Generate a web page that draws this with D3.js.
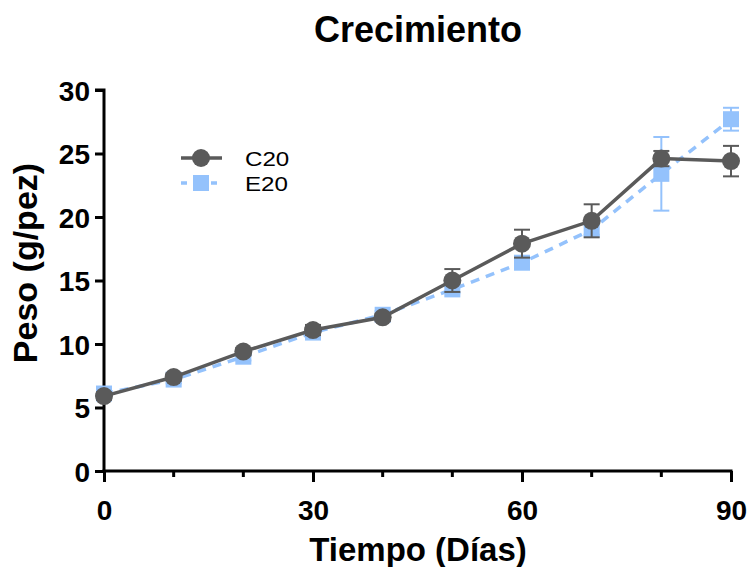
<!DOCTYPE html>
<html>
<head>
<meta charset="utf-8">
<script src="https://cdn.jsdelivr.net/npm/d3@7"></script>
<style>
  body { margin: 0; background: white; }
  text { font-family: "Liberation Sans", Arial, sans-serif; font-weight: bold; }
</style>
</head>
<body>
<script>
var days = [0, 10, 20, 30, 40, 50, 60, 70, 80, 90];
var c20 = [5.9, 7.4, 9.4, 11.1, 12.1, 15.0, 17.9, 19.7, 24.6, 24.4];
var c20Err = [0.3, 0.3, 0.3, 0.4, 0.3, 0.9, 1.1, 1.3, 0.6, 1.2];
var e20 = [6.1, 7.2, 9.0, 10.9, 12.3, 14.3, 16.4, 19.0, 23.4, 27.7];
var e20Err = [0.3, 0.3, 0.3, 0.3, 0.3, 0.3, 0.3, 0.4, 2.9, 0.9];
var xTicks = [0, 30, 60, 90];
var xMinor = [10, 20, 40, 50, 70, 80];
var yTicks = [0, 5, 10, 15, 20, 25, 30];

var width = 749, height = 567;
var svg = d3.select('body').append('svg')
  .attr('width', width)
  .attr('height', height);

var x = d3.scaleLinear().domain([0, 90]).range([104, 731]);
var y = d3.scaleLinear().domain([0, 30]).range([471, 90]);

var dark = '#5a5a5a';
var blue = '#94c2fc';

// title
svg.append('text')
  .attr('x', 418).attr('y', 42)
  .attr('text-anchor', 'middle')
  .style('font-size', '36px')
  .text('Crecimiento');

// axes
var yAxis = d3.axisLeft(y).tickValues(yTicks).tickSize(9).tickPadding(5);
var gy = svg.append('g').attr('transform', 'translate(' + x(0) + ',0)').call(yAxis);
gy.select('.domain').attr('stroke-width', 3).attr('d', 'M-9,' + y(30) + 'H0V' + (y(0) + 1.5));
gy.selectAll('.tick line').attr('stroke-width', 3);
gy.selectAll('.tick text').style('font-size', '28px').attr('dy', '0.36em');

var xAxis = d3.axisBottom(x).tickValues(xTicks).tickSize(11).tickPadding(18);
var gx = svg.append('g').attr('transform', 'translate(0,' + y(0) + ')').call(xAxis);
gx.select('.domain').attr('stroke-width', 3).attr('d', 'M' + (x(0) - 1.5) + ',0H' + (x(90) + 1.5));
gx.selectAll('.tick line').attr('stroke-width', 3);
gx.selectAll('.tick text').style('font-size', '28px');

gx.selectAll('.minor')
  .data(xMinor)
  .enter()
  .append('line')
  .attr('x1', function(d) { return x(d); })
  .attr('x2', function(d) { return x(d); })
  .attr('y1', 0).attr('y2', 6)
  .attr('stroke', 'black')
  .attr('stroke-width', 3);

// axis titles
svg.append('text')
  .attr('x', 418).attr('y', 561)
  .attr('text-anchor', 'middle')
  .style('font-size', '33px')
  .text('Tiempo (Días)');

svg.append('text')
  .attr('transform', 'translate(37,263) rotate(-90)')
  .attr('text-anchor', 'middle')
  .style('font-size', '34px')
  .text('Peso (g/pez)');

function drawSeries(vals, errs, color, dashed, shape) {
  var g = svg.append('g');
  var pts = days.map(function(d, i) { return { x: d, y: vals[i], e: errs[i] }; });

  // error bars
  var eb = g.selectAll('.err').data(pts).enter().append('g');
  eb.append('line')
    .attr('x1', function(d) { return x(d.x); })
    .attr('x2', function(d) { return x(d.x); })
    .attr('y1', function(d) { return y(d.y + d.e); })
    .attr('y2', function(d) { return y(d.y - d.e); })
    .attr('stroke', color).attr('stroke-width', 2);
  [1, -1].forEach(function(s) {
    eb.append('line')
      .attr('x1', function(d) { return x(d.x) - 8; })
      .attr('x2', function(d) { return x(d.x) + 8; })
      .attr('y1', function(d) { return y(d.y + s * d.e); })
      .attr('y2', function(d) { return y(d.y + s * d.e); })
      .attr('stroke', color).attr('stroke-width', 2);
  });

  var line = d3.line().x(function(d) { return x(d.x); }).y(function(d) { return y(d.y); });
  g.append('path')
    .datum(pts)
    .attr('d', line)
    .attr('fill', 'none')
    .attr('stroke', color)
    .attr('stroke-width', 3.5)
    .attr('stroke-dasharray', dashed ? '9,7' : null);

  if (shape === 'circle') {
    g.selectAll('.pt').data(pts).enter().append('circle')
      .attr('cx', function(d) { return x(d.x); })
      .attr('cy', function(d) { return y(d.y); })
      .attr('r', 9)
      .attr('fill', color);
  } else {
    g.selectAll('.pt').data(pts).enter().append('rect')
      .attr('x', function(d) { return x(d.x) - 8; })
      .attr('y', function(d) { return y(d.y) - 8; })
      .attr('width', 16).attr('height', 16)
      .attr('fill', color);
  }
}

drawSeries(e20, e20Err, blue, true, 'square');
drawSeries(c20, c20Err, dark, false, 'circle');

// legend
var leg = svg.append('g');
leg.append('line').attr('x1', 181).attr('x2', 222).attr('y1', 158).attr('y2', 158)
  .attr('stroke', dark).attr('stroke-width', 3.5);
leg.append('circle').attr('cx', 201).attr('cy', 158).attr('r', 9).attr('fill', dark);
leg.append('line').attr('x1', 181).attr('x2', 222).attr('y1', 183).attr('y2', 183)
  .attr('stroke', blue).attr('stroke-width', 3.5).attr('stroke-dasharray', '6,9');
leg.append('rect').attr('x', 193).attr('y', 175).attr('width', 16).attr('height', 16).attr('fill', blue);
leg.append('text').attr('transform', 'translate(245,166) scale(1.15,1)')
  .style('font-size', '21px').style('font-weight', 'normal').text('C20');
leg.append('text').attr('transform', 'translate(245,191) scale(1.15,1)')
  .style('font-size', '21px').style('font-weight', 'normal').text('E20');
</script>
</body>
</html>
